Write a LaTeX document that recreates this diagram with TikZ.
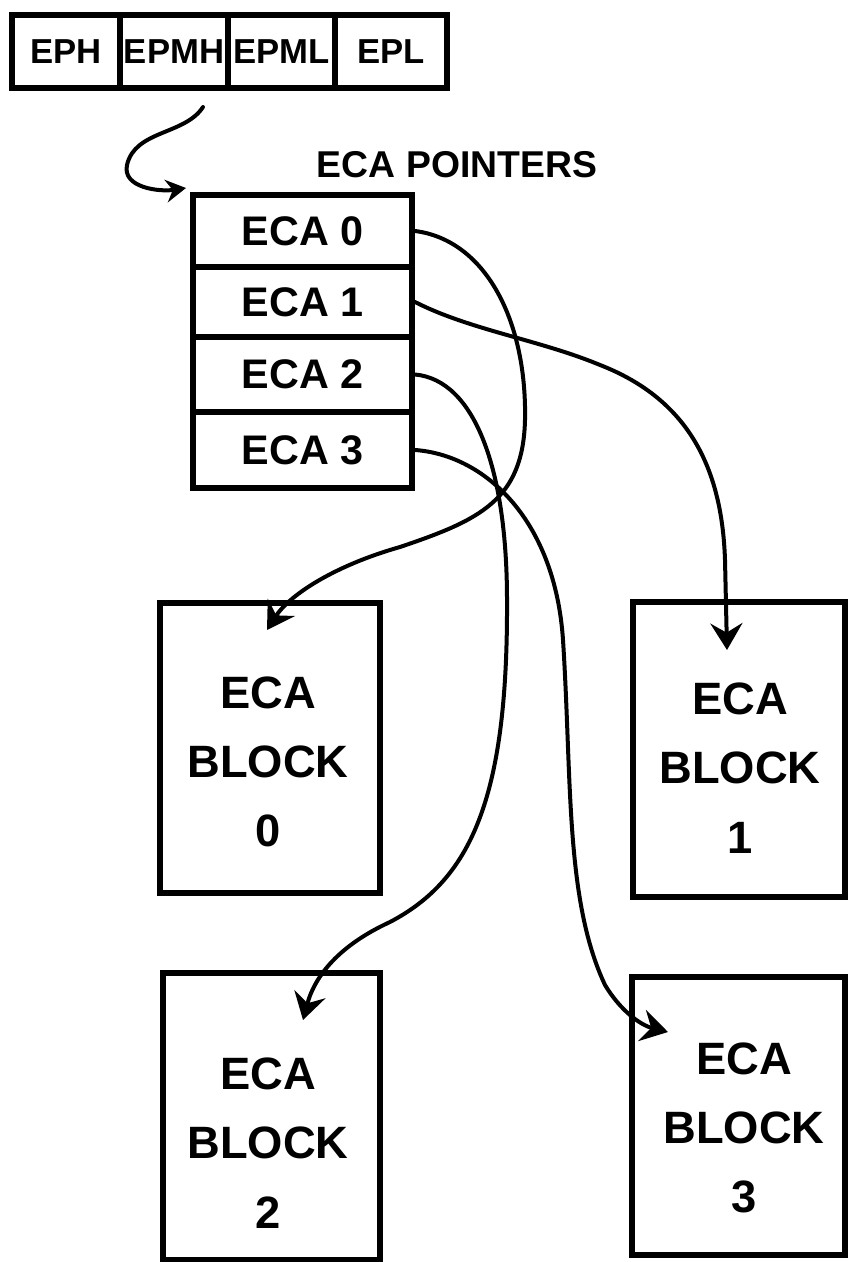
\documentclass[tikz,border=0pt]{standalone}
\usepackage{fontspec}
\setmainfont{Liberation Sans}
\usetikzlibrary{arrows.meta,calc}
\tikzset{
  regcell/.style={draw, line width=4.5pt, rectangle, inner sep=0pt,
    minimum height=54.75pt, font=\bfseries\fontsize{26}{30}\selectfont},
  ptrrow/.style={draw, line width=4.5pt, rectangle, inner sep=0pt,
    minimum width=164.25pt, font=\bfseries\fontsize{31}{36}\selectfont},
  blockbox/.style={draw, line width=4.5pt, rectangle, inner sep=0pt},
  blocktext/.style={align=center, inner sep=0pt,
    font=\bfseries\fontsize{34}{52}\selectfont},
  heading/.style={inner sep=0pt, font=\bfseries\fontsize{28}{34}\selectfont},
  link/.style={line width=3pt, line cap=round,
    -{Stealth[length=20pt,width=24pt,inset=7pt]}},
  entry/.style={line width=3pt, line cap=round,
    -{Stealth[length=15pt,width=17pt,inset=5pt]}}
}
\begin{document}
\begin{tikzpicture}[x=0.75pt,y=-0.75pt]
\path[use as bounding box, fill=white] (0,0) rectangle (848,1262);

% register split into four bytes
\node[regcell, minimum width=81pt]   (eph)  at (66,51.5)    {EPH};
\node[regcell, minimum width=81pt]   (epmh) at (174,51.5)   {EPMH};
\node[regcell, minimum width=80.25pt](epml) at (281.5,51.5) {EPML};
\node[regcell, minimum width=84pt]   (epl)  at (391,51.5)   {EPL};

% table of pointers
\node[heading] (ptitle) at (457,165) {ECA POINTERS};
\node[ptrrow, minimum height=54pt]    (r0) at (302.5,231)   {ECA 0};
\node[ptrrow, minimum height=52.5pt]  (r1) at (302.5,302)   {ECA 1};
\node[ptrrow, minimum height=56.25pt] (r2) at (302.5,374.5) {ECA 2};
\node[ptrrow, minimum height=57pt]    (r3) at (302.5,450)   {ECA 3};

% the four blocks
\node[blockbox, minimum width=165pt,    minimum height=217.5pt]  (b0) at (270,748)      {};
\node[blockbox, minimum width=159pt,    minimum height=221.25pt] (b1) at (739,749.5)    {};
\node[blockbox, minimum width=162.75pt, minimum height=215.25pt] (b2) at (271.5,1116.5) {};
\node[blockbox, minimum width=159.75pt, minimum height=208.5pt]  (b3) at (738.5,1116)   {};

\node[blocktext] (b0t) at (268,762)  {ECA\\BLOCK\\0};
\node[blocktext] (b1t) at (740,768)  {ECA\\BLOCK\\1};
\node[blocktext] (b2t) at (268,1143) {ECA\\BLOCK\\2};
\node[blocktext] (b3t) at (744,1128) {ECA\\BLOCK\\3};

% entry arrow into the pointer table
\coordinate (sin) at (203,107);
\coordinate (tin) at (186,188);
\draw[entry] (sin) .. controls (185,135) and (135,130) .. (127,165)
  .. controls (122,188) and (160,192) .. (tin);

% pointer arrows
\coordinate (t0) at (267,630);
\coordinate (t1) at (727,650);
\coordinate (t2) at (303,1020);
\coordinate (t3) at (668,1032);

\draw[link] (r0.east) .. controls (485,240) and (527,320) .. (525,420)
  .. controls (523,500) and (480,520) .. (400,547)
  .. controls (330,567) and (288,597) .. (t0);

\draw[link] (r1.east) .. controls (470,330) and (540,340) .. (600,365)
  .. controls (690,400) and (722,470) .. (725,560) -- (t1);

\draw[link] (r2.east) .. controls (475,380) and (507,470) .. (507,600)
  .. controls (508,800) and (470,880) .. (390,922)
  .. controls (340,945) and (315,975) .. (t2);

\draw[link] (r3.east) .. controls (485,455) and (555,520) .. (563,640)
  .. controls (572,780) and (565,900) .. (605,985)
  .. controls (620,1010) and (640,1025) .. (t3);
\end{tikzpicture}
\end{document}
